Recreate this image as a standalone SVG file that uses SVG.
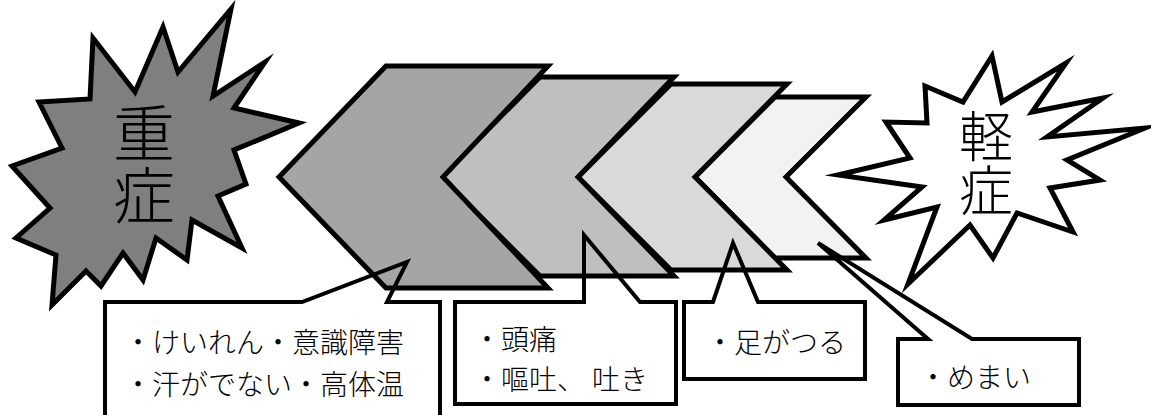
<svg xmlns="http://www.w3.org/2000/svg" width="1151" height="415" viewBox="0 0 1151 415">
  <style>
    .star { stroke: #000; stroke-width: 5; stroke-linejoin: miter; stroke-miterlimit: 12; }
    .chev { stroke: #000; stroke-width: 5; stroke-linejoin: miter; stroke-miterlimit: 10; }
    .callout { fill: none; stroke: #000; stroke-width: 4; stroke-linejoin: miter; stroke-miterlimit: 10; }
    .big { font-family: "Noto Sans CJK JP", "Noto Sans CJK SC", sans-serif; font-weight: 300; fill: #000; writing-mode: vertical-rl; text-anchor: start; }
    .lbl { font-family: "Noto Sans CJK JP", "Noto Sans CJK SC", sans-serif; font-weight: 300; font-size: 28px; fill: #000; }
  </style>
  <rect width="1151" height="415" fill="#fff"/>

  <g id="severe">
    <polygon class="star" fill="#7f7f7f" points="163,27 178,72 231,9 213,96 265,62 234,108 299,123 234,150 246,184 218,196 242,248 192,220 187,260 156,238 143,280 123,253 101,286 86,271 52,305 56,255 16,238 50,208 12,166 62,148 39,102 90,99 93,38 135,92"/>
    <text class="big" writing-mode="vertical-rl" x="144" y="102" font-size="62">重症</text>
  </g>

  <g id="mild">
    <polygon class="star" fill="#fff" points="992,56 1002,102 1066,63 1032,112 1103,98 1047,137 1145,128 1067,160 1100,180 1050,188 1073,232 1017,213 993,258 970,225 908,284 937,207 884,220 922,187 838,175 910,158 886,122 927,123 925,86 963,102"/>
    <text class="big" writing-mode="vertical-rl" x="986" y="109" font-size="54">軽症</text>
  </g>

  <g id="chevron4">
    <path class="chev" fill="#f2f2f2" d="M775,97 L866,97 L786,177 L866,258 L775,258 L695,177 Z"/>
  </g>
  <g id="chevron3">
    <path class="chev" fill="#d9d9d9" d="M671,84 L787,84 L695,177 L787,270 L671,270 L578,177 Z"/>
  </g>
  <g id="chevron2">
    <path class="chev" fill="#bfbfbf" d="M540,77 L674,77 L578,177 L674,276 L540,276 L441,177 Z"/>
  </g>
  <g id="chevron1">
    <path class="chev" fill="#a5a5a5" d="M386,66 L548,66 L443,177 L548,288 L386,288 L279,177 Z"/>
  </g>

  <g id="callout1">
    <path class="callout" d="M105,420 L105,302 L302,302 L407,262 L387,302 L440,302 L440,420"/>
    <text class="lbl" x="124" y="353">・けいれん・意識障害</text>
    <text class="lbl" x="124" y="395">・汗がでない・高体温</text>
  </g>

  <g id="callout2">
    <path class="callout" d="M455,302 L584,302 L584,235 L640,302 L676,302 L676,404 L455,404 Z"/>
    <text class="lbl" x="473" y="350">・頭痛</text>
    <text class="lbl" x="473" y="390">・嘔吐、<tspan dx="7">吐き</tspan></text>
  </g>

  <g id="callout3">
    <path class="callout" d="M684,302 L713,302 L733,243 L758,302 L865,302 L865,379 L684,379 Z"/>
    <text class="lbl" x="706" y="353">・足がつる</text>
  </g>

  <g id="callout4">
    <path class="callout" d="M898,339 L928,339 L818,243 L972,339 L1079,339 L1079,405 L898,405 Z"/>
    <text class="lbl" x="919" y="388">・めまい</text>
  </g>
</svg>
